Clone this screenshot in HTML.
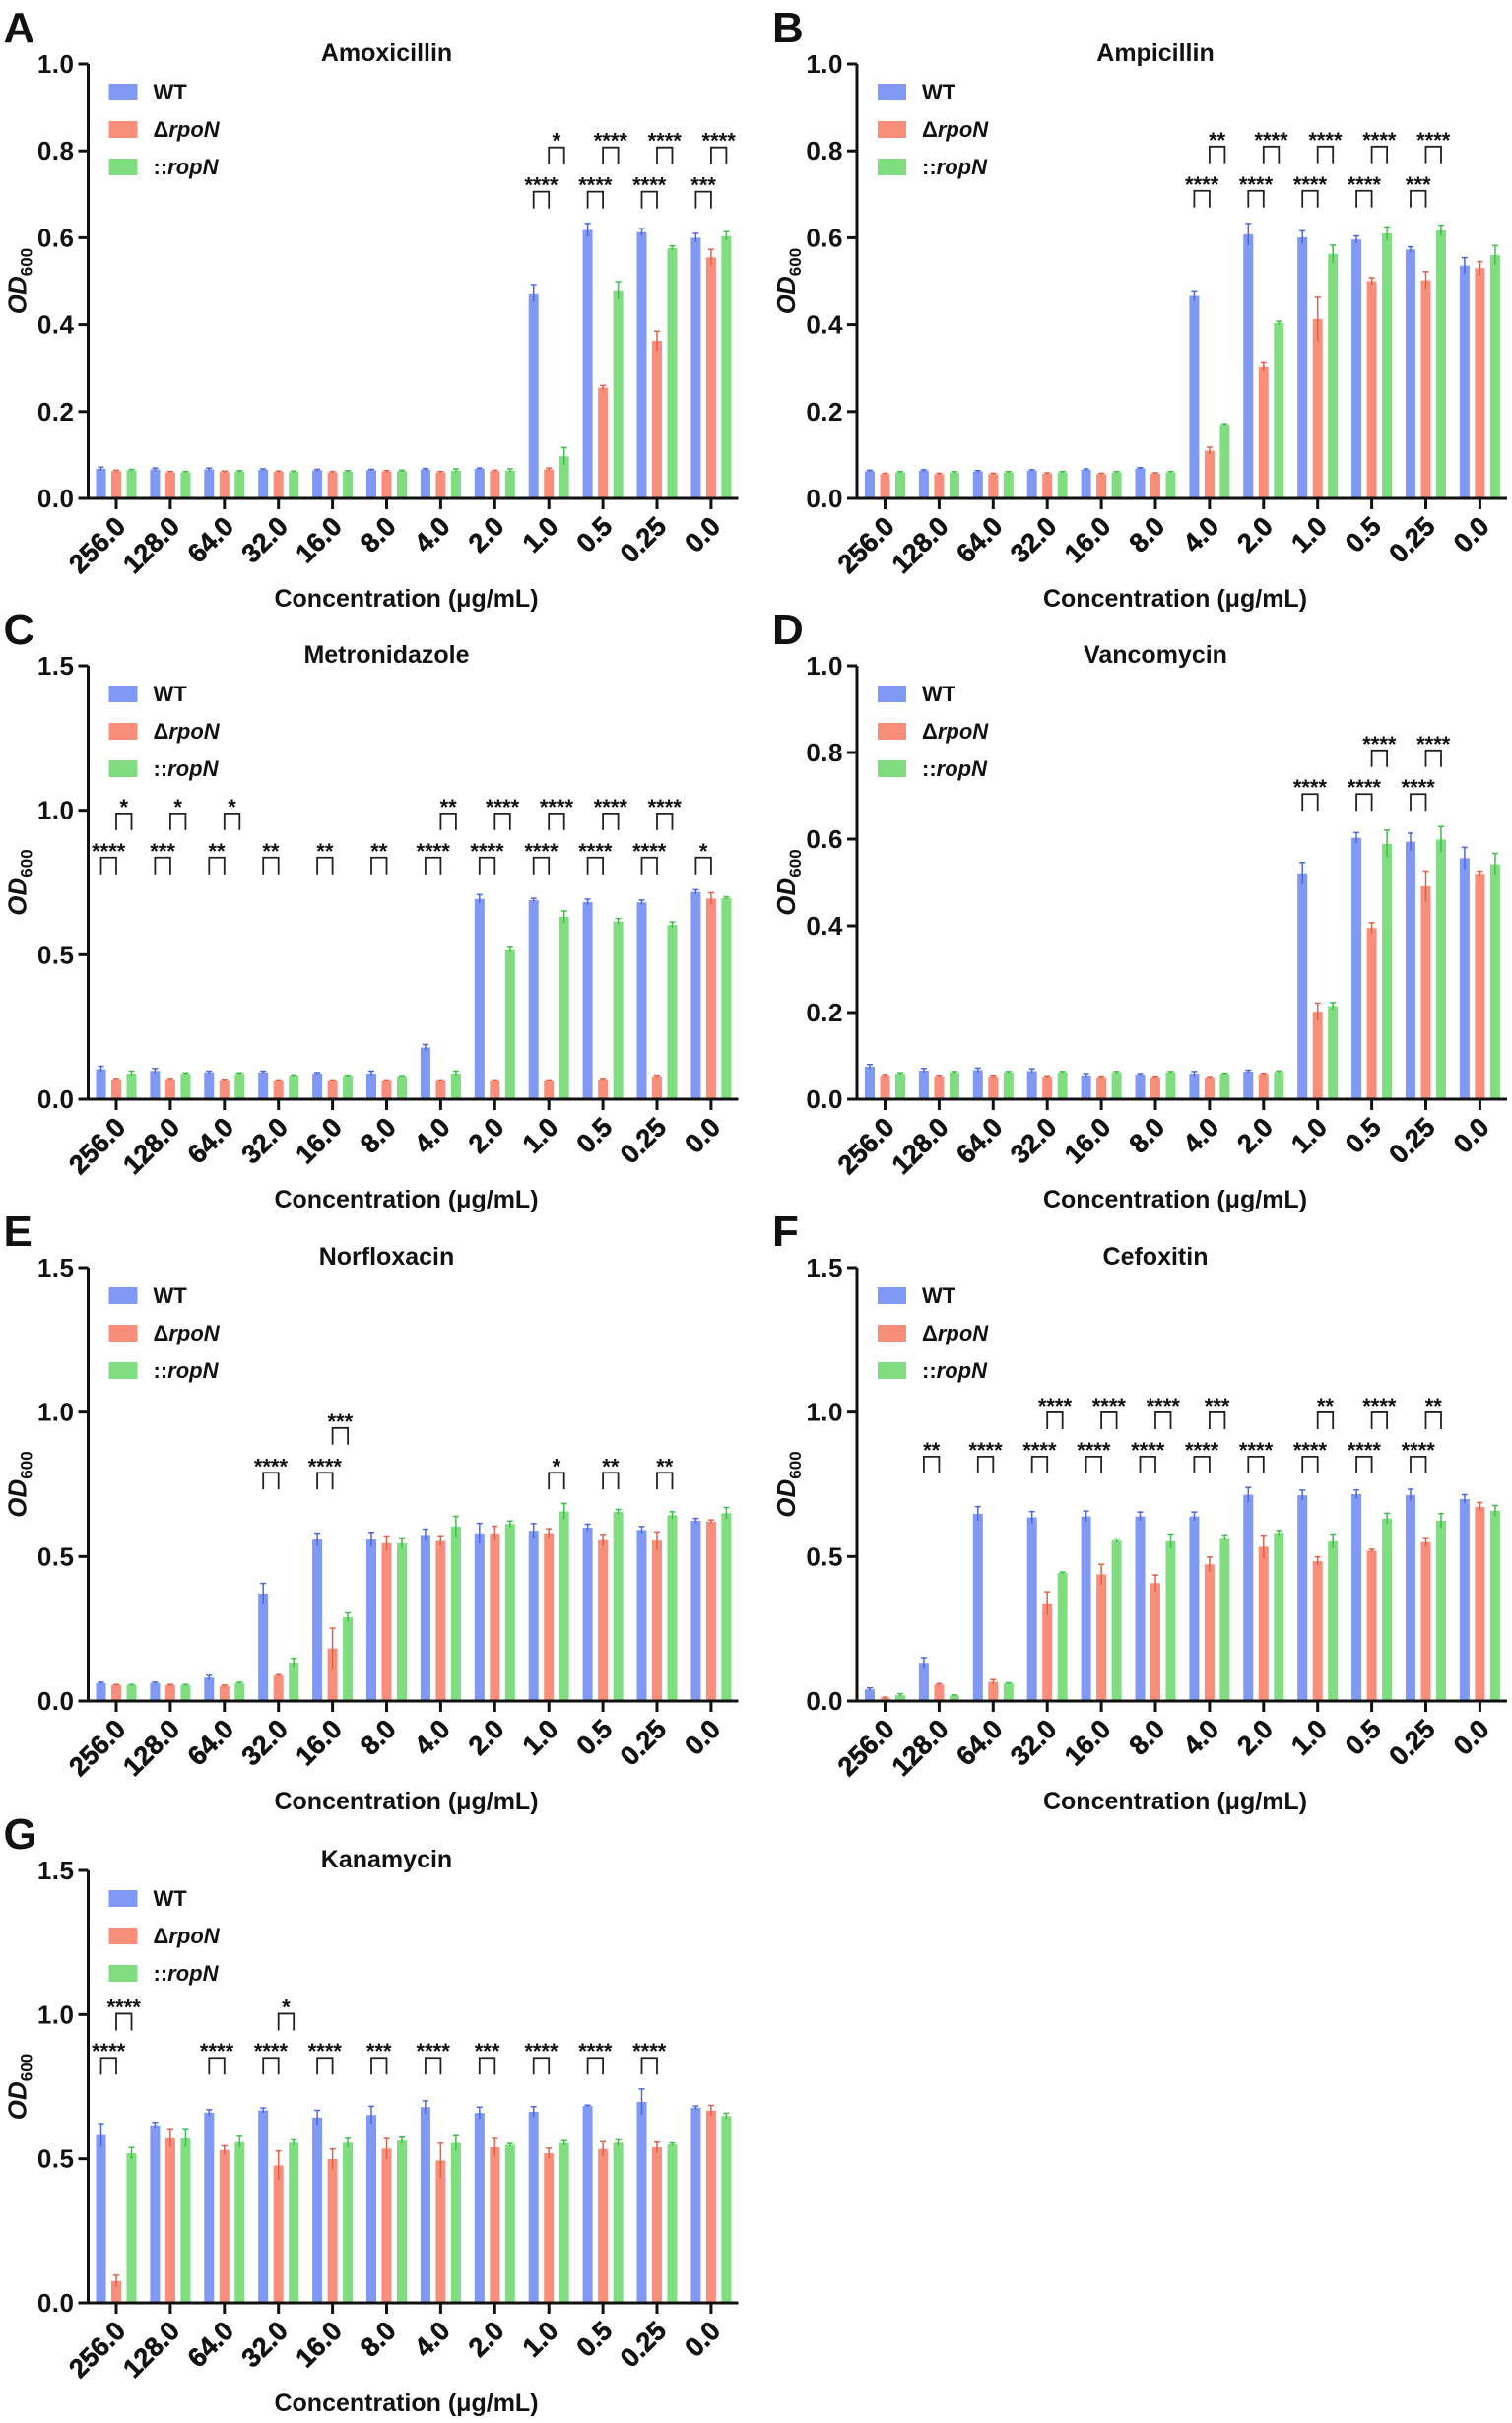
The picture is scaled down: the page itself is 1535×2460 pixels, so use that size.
<!DOCTYPE html>
<html><head><meta charset="utf-8"><style>
html,body{margin:0;padding:0;background:#fff;}
svg{display:block;font-family:"Liberation Sans",Arial,sans-serif;font-weight:bold;}
</style></head><body>
<svg id="fig" width="1535" height="2460" viewBox="0 0 1535 2460" xmlns="http://www.w3.org/2000/svg"></svg>
<script>
const categories = ["256.0","128.0","64.0","32.0","16.0","8.0","4.0","2.0","1.0","0.5","0.25","0.0"];
const ticksSmall = [0,0.2,0.4,0.6,0.8,1.0];
const tickLabelsSmall = ["0.0","0.2","0.4","0.6","0.8","1.0"];
const ticksLarge = [0,0.5,1.0,1.5];
const tickLabelsLarge = ["0.0","0.5","1.0","1.5"];

// A Amoxicillin
const amoxWT   = [0.068,0.067,0.067,0.066,0.065,0.065,0.067,0.068,0.472,0.618,0.613,0.600];
const amoxRpoN = [0.063,0.060,0.061,0.061,0.060,0.062,0.060,0.063,0.067,0.255,0.363,0.555];
const amoxRopN = [0.065,0.060,0.062,0.061,0.062,0.063,0.064,0.064,0.097,0.479,0.576,0.604];
const amoxErr  = [[0.004,0.003,0.003,0.002,0.002,0.002,0.002,0.002,0.02,0.015,0.008,0.01],[0.002,0.002,0.002,0.002,0.002,0.002,0.002,0.002,0.003,0.005,0.022,0.018],[0.002,0.002,0.002,0.002,0.002,0.002,0.004,0.004,0.02,0.02,0.005,0.01]];
const amoxSig  = [[8,0,0,"****"],[9,0,0,"****"],[10,0,0,"****"],[11,0,0,"***"],[8,1,1,"*"],[9,1,1,"****"],[10,1,1,"****"],[11,1,1,"****"]];
// B Ampicillin
const ampWT   = [0.063,0.064,0.062,0.064,0.066,0.069,0.466,0.608,0.601,0.596,0.573,0.536];
const ampRpoN = [0.056,0.056,0.056,0.057,0.056,0.057,0.110,0.302,0.413,0.500,0.502,0.530];
const ampRopN = [0.060,0.060,0.060,0.060,0.060,0.060,0.170,0.404,0.563,0.610,0.617,0.560];
const ampErr  = [[0.002,0.002,0.002,0.002,0.002,0.002,0.012,0.025,0.015,0.008,0.006,0.018],[0.002,0.002,0.002,0.002,0.002,0.002,0.008,0.01,0.05,0.008,0.02,0.015],[0.002,0.002,0.002,0.002,0.002,0.002,0.002,0.004,0.02,0.015,0.012,0.022]];
const ampSig  = [[6,0,0,"****"],[7,0,0,"****"],[8,0,0,"****"],[9,0,0,"****"],[10,0,0,"***"],[6,1,1,"**"],[7,1,1,"****"],[8,1,1,"****"],[9,1,1,"****"],[10,1,1,"****"]];
// C Metronidazole
const metWT   = [0.104,0.098,0.093,0.093,0.089,0.089,0.179,0.693,0.689,0.682,0.681,0.717];
const metRpoN = [0.069,0.069,0.066,0.065,0.065,0.065,0.065,0.065,0.065,0.069,0.080,0.694];
const metRopN = [0.089,0.088,0.088,0.082,0.081,0.080,0.089,0.519,0.631,0.615,0.603,0.696];
const metErr  = [[0.01,0.008,0.004,0.004,0.003,0.008,0.01,0.015,0.006,0.01,0.008,0.008],[0.003,0.003,0.003,0.002,0.002,0.002,0.002,0.002,0.002,0.003,0.003,0.02],[0.008,0.003,0.003,0.002,0.002,0.002,0.008,0.01,0.02,0.01,0.01,0.004]];
const metSig  = [[0,0,0,"****"],[1,0,0,"***"],[2,0,0,"**"],[3,0,0,"**"],[4,0,0,"**"],[5,0,0,"**"],[6,0,0,"****"],[7,0,0,"****"],[8,0,0,"****"],[9,0,0,"****"],[10,0,0,"****"],[11,0,0,"*"],[0,1,1,"*"],[1,1,1,"*"],[2,1,1,"*"],[6,1,1,"**"],[7,1,1,"****"],[8,1,1,"****"],[9,1,1,"****"],[10,1,1,"****"]];
// D Vancomycin
const vanWT   = [0.075,0.066,0.067,0.065,0.055,0.057,0.059,0.064,0.521,0.603,0.594,0.556];
const vanRpoN = [0.055,0.053,0.053,0.052,0.051,0.051,0.050,0.058,0.202,0.395,0.491,0.520];
const vanRopN = [0.059,0.062,0.062,0.062,0.062,0.062,0.058,0.063,0.215,0.589,0.599,0.542];
const vanErr  = [[0.005,0.005,0.005,0.005,0.004,0.002,0.005,0.003,0.025,0.012,0.02,0.025],[0.002,0.002,0.002,0.002,0.002,0.002,0.002,0.002,0.02,0.012,0.035,0.006],[0.002,0.002,0.002,0.002,0.002,0.002,0.002,0.002,0.008,0.032,0.03,0.025]];
const vanSig  = [[8,0,0,"****"],[9,0,0,"****"],[10,0,0,"****"],[9,1,1,"****"],[10,1,1,"****"]];
// E Norfloxacin
const norWT   = [0.062,0.062,0.081,0.372,0.559,0.559,0.575,0.580,0.589,0.600,0.592,0.624];
const norRpoN = [0.055,0.055,0.052,0.088,0.182,0.546,0.554,0.580,0.581,0.557,0.555,0.621];
const norRopN = [0.055,0.055,0.062,0.133,0.290,0.546,0.604,0.613,0.656,0.655,0.643,0.650];
const norErr  = [[0.003,0.003,0.008,0.035,0.022,0.025,0.02,0.035,0.025,0.012,0.012,0.008],[0.002,0.002,0.003,0.003,0.07,0.025,0.018,0.025,0.015,0.02,0.03,0.006],[0.002,0.002,0.003,0.015,0.015,0.018,0.035,0.01,0.028,0.008,0.012,0.02]];
const norSig  = [[3,0,0,"****"],[4,0,0,"****"],[4,1,1,"***"],[8,1,0,"*"],[9,1,0,"**"],[10,1,0,"**"]];
// F Cefoxitin
const cefWT   = [0.040,0.132,0.648,0.636,0.639,0.639,0.639,0.714,0.712,0.716,0.713,0.699];
const cefRpoN = [0.011,0.057,0.066,0.338,0.438,0.408,0.473,0.534,0.484,0.520,0.550,0.672];
const cefRopN = [0.020,0.019,0.061,0.443,0.555,0.553,0.565,0.582,0.553,0.632,0.624,0.659];
const cefErr  = [[0.005,0.018,0.025,0.02,0.018,0.015,0.015,0.025,0.018,0.015,0.02,0.015],[0.002,0.003,0.008,0.04,0.035,0.028,0.025,0.04,0.015,0.005,0.015,0.015],[0.005,0.002,0.002,0.003,0.006,0.025,0.01,0.008,0.025,0.018,0.025,0.018]];
const cefSig  = [[1,0,0,"**"],[2,0,0,"****"],[3,0,0,"****"],[4,0,0,"****"],[5,0,0,"****"],[6,0,0,"****"],[7,0,0,"****"],[8,0,0,"****"],[9,0,0,"****"],[10,0,0,"****"],[3,1,1,"****"],[4,1,1,"****"],[5,1,1,"****"],[6,1,1,"***"],[8,1,1,"**"],[9,1,1,"****"],[10,1,1,"**"]];
// G Kanamycin
const kanWT   = [0.582,0.616,0.660,0.668,0.643,0.652,0.679,0.659,0.663,0.683,0.697,0.677];
const kanRpoN = [0.076,0.571,0.530,0.477,0.499,0.535,0.494,0.540,0.519,0.534,0.540,0.667];
const kanRopN = [0.519,0.571,0.558,0.556,0.556,0.563,0.555,0.548,0.555,0.556,0.550,0.648];
const kanErr  = [[0.04,0.01,0.01,0.008,0.025,0.03,0.022,0.02,0.018,0.003,0.045,0.006],[0.02,0.03,0.015,0.05,0.035,0.035,0.06,0.03,0.018,0.025,0.018,0.018],[0.02,0.03,0.02,0.01,0.015,0.012,0.025,0.005,0.008,0.01,0.005,0.01]];
const kanSig  = [[0,0,0,"****"],[2,0,0,"****"],[3,0,0,"****"],[4,0,0,"****"],[5,0,0,"***"],[6,0,0,"****"],[7,0,0,"***"],[8,0,0,"****"],[9,0,0,"****"],[10,0,0,"****"],[0,1,1,"****"],[3,1,1,"*"]];

const panels = [
 {letter:"A",title:"Amoxicillin",x:89.5,top:65,zero:506,max:1.0,ticks:ticksSmall,tl:tickLabelsSmall,s:[amoxWT,amoxRpoN,amoxRopN],e:amoxErr,sig:amoxSig,lv:[0.706,0.808]},
 {letter:"B",title:"Ampicillin",x:870,top:65,zero:506,max:1.0,ticks:ticksSmall,tl:tickLabelsSmall,s:[ampWT,ampRpoN,ampRopN],e:ampErr,sig:ampSig,lv:[0.708,0.81]},
 {letter:"C",title:"Metronidazole",x:89.5,top:676,zero:1116,max:1.5,ticks:ticksLarge,tl:tickLabelsLarge,s:[metWT,metRpoN,metRopN],e:metErr,sig:metSig,lv:[0.836,0.989]},
 {letter:"D",title:"Vancomycin",x:870,top:676,zero:1116,max:1.0,ticks:ticksSmall,tl:tickLabelsSmall,s:[vanWT,vanRpoN,vanRopN],e:vanErr,sig:vanSig,lv:[0.704,0.805]},
 {letter:"E",title:"Norfloxacin",x:89.5,top:1287,zero:1727,max:1.5,ticks:ticksLarge,tl:tickLabelsLarge,s:[norWT,norRpoN,norRopN],e:norErr,sig:norSig,lv:[0.79,0.945]},
 {letter:"F",title:"Cefoxitin",x:870,top:1287,zero:1727,max:1.5,ticks:ticksLarge,tl:tickLabelsLarge,s:[cefWT,cefRpoN,cefRopN],e:cefErr,sig:cefSig,lv:[0.846,0.999]},
 {letter:"G",title:"Kanamycin",x:89.5,top:1899,zero:2338,max:1.5,ticks:ticksLarge,tl:tickLabelsLarge,s:[kanWT,kanRpoN,kanRopN],e:kanErr,sig:kanSig,lv:[0.85,1.003]}
];
const fills = ["#7f99f4","#f98f7b","#80de80"];
const strokes = ["#4d68dc","#e2604b","#3fbf4a"];
const seriesNames = ["wt","rpon","ropn"];
const NS = "http://www.w3.org/2000/svg";
const svg = document.getElementById("fig");
function mk(tag, attrs, parent, text){
  const el = document.createElementNS(NS, tag);
  for (const k in attrs) el.setAttribute(k, attrs[k]);
  if (text !== undefined) el.textContent = text;
  parent.appendChild(el);
  return el;
}
panels.forEach(p => {
  const g = mk("g", {}, svg);
  
  
  const W = 660, step = 54.9, x0 = p.x + 28.5;
  const yS = v => p.zero - v / p.max * (p.zero - p.top);
  const xS = i => x0 + i * step;
  const lt = mk("text", {x: p.x - 86, y: p.top - 22, "font-size": 44, fill: "#111"}, g, p.letter);
  
  
  const tt = mk("text", {x: p.x + 303, y: p.top - 3, "font-size": 25, "text-anchor": "middle", fill: "#111"}, g, p.title);
  
  
  for (let s = 0; s < 3; s++) {
    p.s[s].forEach((v, i) => {
      const cx = xS(i) + (s - 1) * 15.5;
      const r = mk("rect", {x: cx - 5, y: yS(v), width: 10, height: p.zero - yS(v), fill: fills[s]}, g);
      
      
      const e = p.e[s][i];
      const eb = mk("path", {d: `M${cx},${yS(v - e)}V${yS(v + e)}M${cx - 3},${yS(v + e)}H${cx + 3}`, stroke: strokes[s], "stroke-width": 1.5, fill: "none"}, g);
      
      
    });
  }
  const ax = mk("path", {d: `M${p.x},${p.top}V${p.zero}H${p.x + W}`, stroke: "#111", "stroke-width": 3, fill: "none"}, g);
  
  
  p.ticks.forEach((t, k) => {
    mk("line", {x1: p.x - 10, x2: p.x, y1: yS(t), y2: yS(t), stroke: "#111", "stroke-width": 3}, g);
    const yl = mk("text", {x: p.x - 14, y: yS(t) + 9, "font-size": 26, "text-anchor": "end", fill: "#111", "letter-spacing": "0.5"}, g, p.tl[k]);
    
    
  });
  categories.forEach((c, i) => {
    mk("line", {x1: xS(i), x2: xS(i), y1: p.zero, y2: p.zero + 11, stroke: "#111", "stroke-width": 3}, g);
    const ax2 = xS(i) + 11, ay = p.zero + 30;
    const xl = mk("text", {x: ax2, y: ay, "font-size": 27, "text-anchor": "end", fill: "#111", stroke: "#111", "stroke-width": 0.6, transform: `rotate(-45 ${ax2} ${ay})`}, g, c);
    
    
  });
  const xt = mk("text", {x: p.x + 323, y: p.zero + 110, "font-size": 25, "text-anchor": "middle", fill: "#111"}, g, "Concentration (μg/mL)");
  
  
  const yc = p.x - 72, ym = (p.top + p.zero) / 2;
  const yt = mk("text", {x: yc, y: ym, "font-size": 26, "text-anchor": "middle", fill: "#111", transform: `rotate(-90 ${yc} ${ym}) translate(0 9)`}, g);
  
  
  mk("tspan", {"font-style": "italic"}, yt, "OD");
  mk("tspan", {"font-size": 17, dy: 6}, yt, "600");
  const lab = [["WT",""],["Δ","rpoN"],["::","ropN"]];
  [28, 66, 104].forEach((dy, s) => {
    const lg = mk("g", {}, g);
    
    
    mk("rect", {x: p.x + 21, y: p.top + dy - 8, width: 29, height: 17, fill: fills[s]}, lg);
    const t = mk("text", {x: p.x + 66, y: p.top + dy + 8, "font-size": 22, fill: "#111"}, lg);
    mk("tspan", {}, t, lab[s][0]);
    if (lab[s][1]) mk("tspan", {"font-style": "italic"}, t, lab[s][1]);
  });
  p.sig.forEach(sg => {
    const [i, pair, lvl, txt] = sg;
    const xa = xS(i) + (pair - 1) * 15.5, xb = xa + 15.5;
    const yt2 = yS(p.lv[lvl]);
    const br = mk("path", {d: `M${xa},${yt2 + 17}V${yt2}H${xb}V${yt2 + 17}`, stroke: "#222", "stroke-width": 1.8, fill: "none"}, g);
    
    
    const st = mk("text", {x: (xa + xb) / 2, y: yt2 + 1, "font-size": 22, "text-anchor": "middle", fill: "#111"}, g, txt);
    
    
  });
});
</script>
</body></html>
